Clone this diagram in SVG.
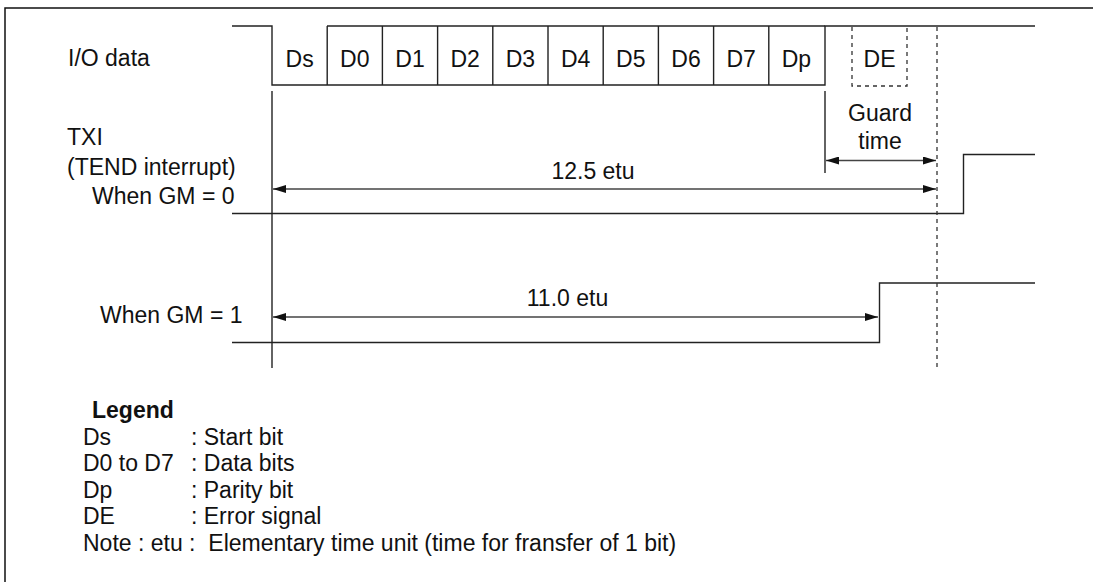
<svg xmlns="http://www.w3.org/2000/svg" width="1093" height="582" viewBox="0 0 1093 582">
<style>
text{font-family:"Liberation Sans",Arial,sans-serif;font-size:23px;fill:#111}
.c{text-anchor:middle}
.b{font-weight:bold}
.w{fill:none;stroke:#222;stroke-width:1.4}
.d{fill:none;stroke:#333;stroke-width:1.3;stroke-dasharray:4 4}
.a{fill:none;stroke:#444;stroke-width:1.6}
</style>
<defs>
<marker id="ah" viewBox="0 0 13 8" refX="13" refY="4" markerWidth="13" markerHeight="8" markerUnits="userSpaceOnUse" orient="auto-start-reverse">
<path d="M0,0 L13,4 L0,8 Z" fill="#111"/>
</marker>
</defs>
<rect width="1093" height="582" fill="#fff"/>
<path d="M5,590 V8 H1100" fill="none" stroke="#111" stroke-width="1.5"/>

<g id="labels">
<text x="68" y="66">I/O data</text>
<text x="67" y="145">TXI</text>
<text x="67" y="175">(TEND interrupt)</text>
<text x="92" y="204">When GM = 0</text>
<text x="100" y="323">When GM = 1</text>
</g>

<g id="io-data">
<path class="w" d="M232,26 H272 V85 H825 V26 H1035"/>
<path class="w" d="M327,26 H825"/>
<path class="w" d="M327.2,26 V85 M382.4,26 V85 M437.6,26 V85 M492.8,26 V85 M548,26 V85 M603.2,26 V85 M658.4,26 V85 M713.6,26 V85 M768.8,26 V85"/>
<text class="c" x="299.6" y="67">Ds</text>
<text class="c" x="354.8" y="67">D0</text>
<text class="c" x="410" y="67">D1</text>
<text class="c" x="465.2" y="67">D2</text>
<text class="c" x="520.4" y="67">D3</text>
<text class="c" x="575.6" y="67">D4</text>
<text class="c" x="630.8" y="67">D5</text>
<text class="c" x="686" y="67">D6</text>
<text class="c" x="741.2" y="67">D7</text>
<text class="c" x="796.4" y="67">Dp</text>
</g>

<g id="de">
<path class="d" d="M852,27 V86 H907 V27"/>
<text class="c" x="879.5" y="67">DE</text>
</g>

<g id="txi-gm0">
<path class="w" d="M232,213.5 H963.5 V154.5 H1035"/>
</g>

<g id="txi-gm1">
<path class="w" d="M232,342.5 H879.5 V283 H1035"/>
</g>

<g id="connectors">
<path class="w" d="M272,91 V368"/>
<path class="w" d="M825,91 V173"/>
<path class="d" d="M937,27 V369"/>
<path class="a" d="M826,160.5 H936" marker-start="url(#ah)" marker-end="url(#ah)"/>
<path class="a" d="M273,189 H936" marker-start="url(#ah)" marker-end="url(#ah)"/>
<path class="a" d="M273,317 H878" marker-start="url(#ah)" marker-end="url(#ah)"/>
</g>

<g id="dim-labels">
<text class="c" x="880" y="121">Guard</text>
<text class="c" x="880" y="149">time</text>
<text class="c" x="593" y="179">12.5 etu</text>
<text class="c" x="567.5" y="306">11.0 etu</text>
</g>

<g id="legend">
<text class="b" x="92" y="418">Legend</text>
<text x="83" y="445">Ds</text>
<text x="191" y="445">: Start bit</text>
<text x="83" y="471">D0 to D7</text>
<text x="191" y="471">: Data bits</text>
<text x="83" y="498">Dp</text>
<text x="191" y="498">: Parity bit</text>
<text x="83" y="524">DE</text>
<text x="191" y="524">: Error signal</text>
<text x="83" y="551" xml:space="preserve">Note : etu :  Elementary time unit (time for fransfer of 1 bit)</text>
</g>
</svg>
